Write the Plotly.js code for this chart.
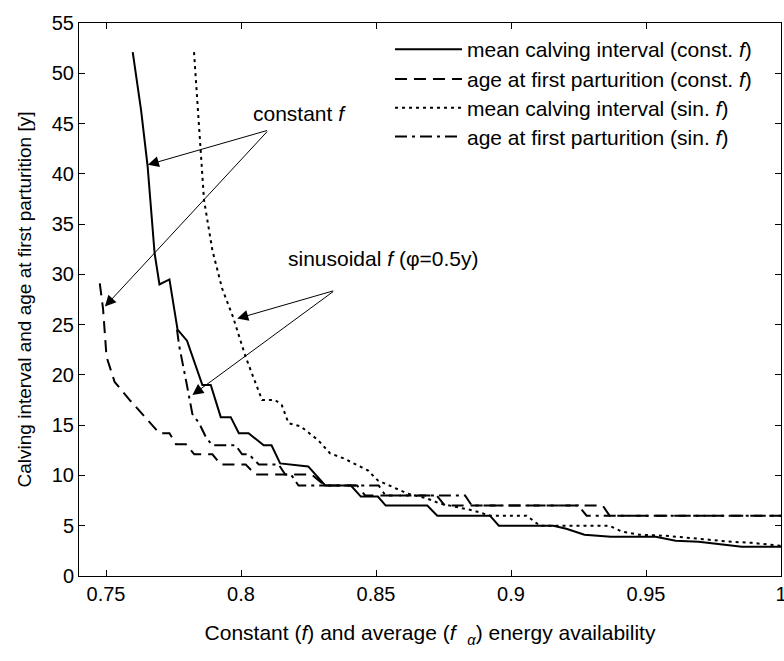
<!DOCTYPE html>
<html>
<head>
<meta charset="utf-8">
<script src="https://cdn.plot.ly/plotly-3.0.1.min.js"></script>
<style>html,body{margin:0;padding:0;background:#fff}</style>
</head>
<body>
<div id="chart" style="width:784px;height:661px"></div>
<script>
// mean calving interval (const. f)
const mciConstX = [0.7599, 0.7630, 0.7654, 0.7680, 0.7698, 0.7735, 0.7765, 0.7800, 0.7857, 0.7888, 0.7925, 0.7962, 0.7992, 0.8028, 0.8084, 0.8113, 0.8145, 0.8249, 0.8312, 0.8407, 0.8444, 0.8507, 0.8536, 0.8690, 0.8727, 0.8922, 0.8955, 0.9157, 0.9205, 0.9272, 0.9370, 0.9536, 0.9610, 0.9695, 0.9855, 1.0];
const mciConstY = [52.1, 46.3, 40.8, 32.1, 29.0, 29.5, 24.5, 23.4, 19.0, 19.0, 15.8, 15.8, 14.2, 14.2, 13.0, 13.0, 11.2, 10.9, 9.0, 9.0, 7.9, 7.9, 7.0, 7.0, 6.0, 6.0, 5.0, 5.0, 4.7, 4.1, 3.9, 3.9, 3.5, 3.4, 2.9, 2.9];

// age at first parturition (const. f)
const afpConstX = [0.7477, 0.7489, 0.7502, 0.7532, 0.7588, 0.7636, 0.7698, 0.7735, 0.7759, 0.7796, 0.7827, 0.7894, 0.7925, 0.8017, 0.8053, 0.8261, 0.8311, 0.8430, 0.8460, 0.8725, 0.8755, 0.9340, 0.9365, 1.0];
const afpConstY = [29.1, 26.6, 21.8, 19.3, 17.5, 16.1, 14.2, 14.2, 13.1, 13.1, 12.1, 12.1, 11.1, 11.1, 10.1, 10.1, 9.0, 9.0, 8.0, 8.0, 7.0, 7.0, 6.0, 6.0];

// mean calving interval (sin. f)
const mciSinX = [0.7826, 0.7845, 0.7863, 0.7894, 0.7930, 0.7970, 0.8017, 0.8078, 0.8127, 0.8151, 0.8176, 0.8220, 0.8286, 0.8330, 0.8380, 0.8470, 0.8507, 0.8617, 0.8690, 0.8738, 0.8862, 0.8923, 0.9058, 0.9107, 0.9364, 0.9413, 0.9475, 0.9573, 0.9695, 0.9818, 0.9891, 1.0];
const mciSinY = [52.1, 44.0, 37.4, 32.4, 28.6, 25.8, 21.8, 17.5, 17.5, 17.0, 15.2, 14.9, 13.5, 12.2, 11.7, 10.5, 9.5, 8.2, 7.7, 7.2, 6.5, 6.0, 6.0, 5.0, 5.0, 4.4, 4.1, 4.0, 3.7, 3.4, 3.3, 3.0];

// age at first parturition (sin. f)
const afpSinX = [0.7763, 0.7771, 0.7796, 0.7820, 0.7845, 0.7870, 0.7894, 0.7980, 0.8004, 0.8029, 0.8066, 0.8139, 0.8164, 0.8185, 0.8213, 0.8510, 0.8535, 0.8830, 0.8855, 0.9250, 0.9280, 1.0];
const afpSinY = [24.5, 22.9, 19.5, 16.1, 15.2, 13.8, 13.0, 13.0, 12.1, 12.1, 11.1, 11.1, 10.1, 10.1, 9.0, 9.0, 8.0, 8.0, 7.0, 7.0, 6.0, 6.0];

const seriesNames = [
  'mean calving interval (const. <i>f</i>)',
  'age at first parturition (const. <i>f</i>)',
  'mean calving interval (sin. <i>f</i>)',
  'age at first parturition (sin. <i>f</i>)'
];

const xTickVals = [0.75, 0.8, 0.85, 0.9, 0.95, 1];
const xTickText = ['0.75', '0.8', '0.85', '0.9', '0.95', '1'];
const yTickVals = [0, 5, 10, 15, 20, 25, 30, 35, 40, 45, 50, 55];

// annotation anchor points (data coordinates)
const constTail = [0.8102, 44.35];
const constHeads = [[0.7655, 40.9], [0.7496, 26.8]];
const sinTail = [0.8347, 28.4];
const sinHeads = [[0.7986, 25.6], [0.7820, 18.0]];
const constLabel = {x: 0.8036, y: 46.0, text: 'constant <i>f</i>'};
const sinLabel = {x: 0.8165, y: 31.6, text: 'sinusoidal <i>f</i> (φ=0.5y)'};

// legend row centres (paper fraction)
const legendRowY = [0.952, 0.898, 0.846, 0.794];

const FONT = 'Liberation Sans, Arial, Helvetica, sans-serif';
const dashes = ['solid', '12px,7px', '3px,4px', '12px,5px,3px,5px'];
const xs = [mciConstX, afpConstX, mciSinX, afpSinX];
const ys = [mciConstY, afpConstY, mciSinY, afpSinY];
const legendIds = ['legend', 'legend2', 'legend3', 'legend4'];

const traces = xs.map((x, i) => ({
  type: 'scatter', mode: 'lines', x: x, y: ys[i], name: seriesNames[i],
  legend: legendIds[i],
  line: {color: '#000', width: 2, dash: dashes[i]},
  hoverinfo: 'skip'
}));

const anns = [];
constHeads.forEach(h => anns.push({
  x: h[0], y: h[1], ax: constTail[0], ay: constTail[1], axref: 'x', ayref: 'y', xref: 'x', yref: 'y',
  text: '', showarrow: true, arrowhead: 2, arrowsize: 2.2, arrowwidth: 1, arrowcolor: '#000', standoff: 0, startstandoff: 0
}));
sinHeads.forEach(h => anns.push({
  x: h[0], y: h[1], ax: sinTail[0], ay: sinTail[1], axref: 'x', ayref: 'y', xref: 'x', yref: 'y',
  text: '', showarrow: true, arrowhead: 2, arrowsize: 2.2, arrowwidth: 1, arrowcolor: '#000', standoff: 0, startstandoff: 0
}));
[constLabel, sinLabel].forEach(l => anns.push({
  x: l.x, y: l.y, xref: 'x', yref: 'y', text: l.text, showarrow: false,
  xanchor: 'left', yanchor: 'middle', font: {family: FONT, size: 21, color: '#000'}
}));

const axisCommon = {
  ticks: 'inside', ticklen: 6, tickwidth: 1, tickcolor: '#000',
  showline: true, linecolor: '#000', linewidth: 1, mirror: 'ticks',
  showgrid: false, zeroline: false, ticklabeloverflow: 'allow',
  tickfont: {family: FONT, size: 20, color: '#000'}
};

const layout = {
  width: 784, height: 661,
  margin: {l: 79, r: 3, t: 23, b: 85, pad: 0},
  paper_bgcolor: '#fff', plot_bgcolor: '#fff',
  font: {family: FONT, size: 20, color: '#000'},
  showlegend: true,
  xaxis: Object.assign({}, axisCommon, {
    range: [0.74, 1], tickmode: 'array', tickvals: xTickVals, ticktext: xTickText,
    title: {text: 'Constant (<i>f</i>) and average (<i>f</i>  <sub><i>α</i></sub>) energy availability', font: {family: FONT, size: 21, color: '#000'}, standoff: 21}
  }),
  yaxis: Object.assign({}, axisCommon, {
    range: [0, 55], tickmode: 'array', tickvals: yTickVals,
    title: {text: 'Calving interval and age at first parturition [y]', font: {family: FONT, size: 19, color: '#000'}, standoff: 15}
  }),
  annotations: anns
};
legendIds.forEach((id, i) => {
  layout[id] = {
    x: 0.443, y: legendRowY[i], xanchor: 'left', yanchor: 'middle',
    bgcolor: 'rgba(0,0,0,0)', borderwidth: 0,
    itemwidth: 67, font: {family: FONT, size: 21, color: '#000'}
  };
});

Plotly.newPlot('chart', traces, layout, {staticPlot: true, displayModeBar: false});
</script>
</body>
</html>
